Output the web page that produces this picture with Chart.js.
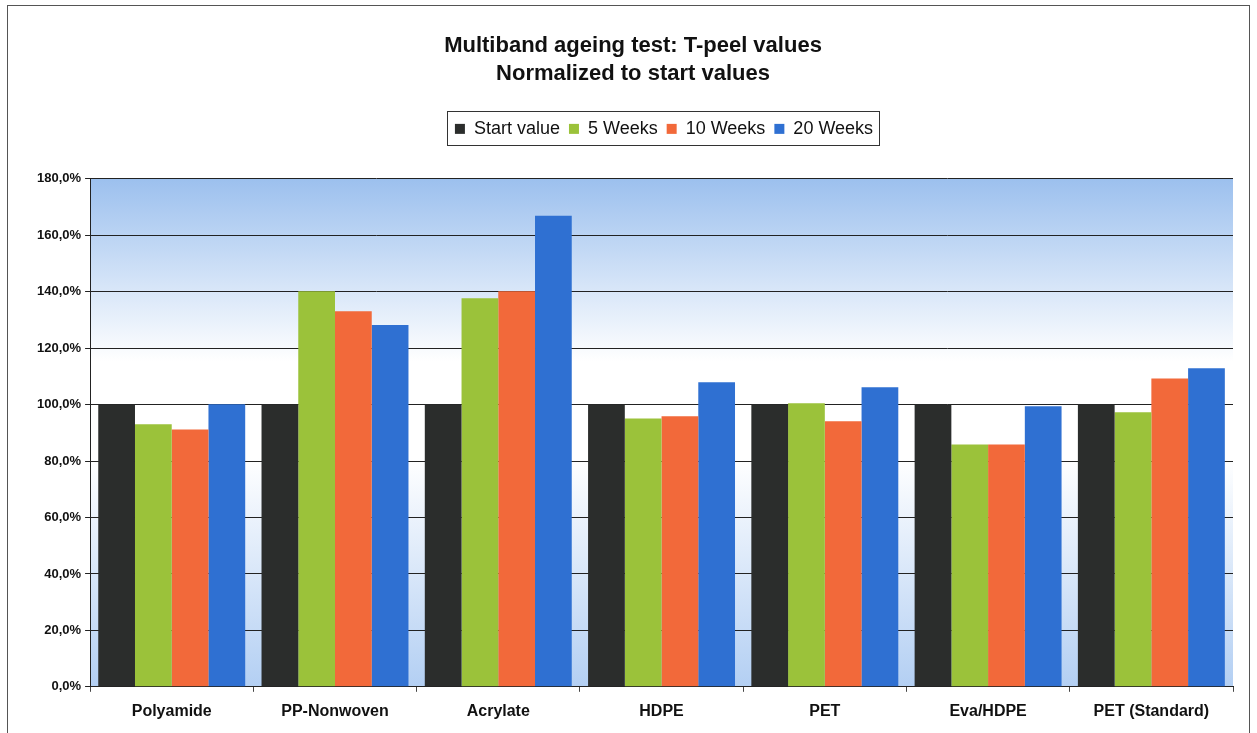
<!DOCTYPE html>
<html>
<head>
<meta charset="utf-8">
<script src="https://cdn.jsdelivr.net/npm/chart.js@4"></script>
<style>
  html, body { margin: 0; padding: 0; background: #fff; }
  #wrap { position: absolute; left: 0; top: 0; width: 1257px; height: 733px; }
  #frame { position: absolute; left: 7px; top: 5px; width: 1243px; height: 740px; border: 1px solid #555; box-sizing: border-box; }
</style>
</head>
<body>
<div id="wrap">
  <div id="frame"></div>
  <canvas id="chart" width="1257" height="733"></canvas>
</div>
<script>
// Chart data (normalized T-peel values, %)
const materials = ['Polyamide', 'PP-Nonwoven', 'Acrylate', 'HDPE', 'PET', 'Eva/HDPE', 'PET (Standard)'];
const startValue = [100, 100, 100, 100, 100, 100, 100];
const weeks5 = [93.0, 140.2, 137.7, 95.1, 100.5, 85.9, 97.3];
const weeks10 = [91.2, 133.1, 140.2, 95.9, 94.1, 85.9, 109.3];
const weeks20 = [100.1, 128.2, 166.9, 107.9, 106.2, 99.4, 112.9];
const seriesNames = ['Start value', '5 Weeks', '10 Weeks', '20 Weeks'];

const FONT = '"Liberation Sans", Arial, sans-serif';

// gradient behind the plot area, blue -> white -> blue
const plotBackground = {
    id: 'plotBackground',
    beforeDraw(chart) {
        const { ctx, chartArea: a } = chart;
        const g = ctx.createLinearGradient(0, a.top, 0, a.bottom);
        g.addColorStop(0, '#9cc0ee');
        g.addColorStop(0.36, '#ffffff');
        g.addColorStop(0.55, '#ffffff');
        g.addColorStop(1, '#b3cff3');
        ctx.save();
        ctx.fillStyle = g;
        ctx.fillRect(a.left, a.top, a.right - a.left, a.bottom - a.top);
        ctx.restore();
    }
};

// legend: extra space below it, nudged right, with a box round the items only
const LEGEND_SHIFT = 31;
const legendBox = {
    id: 'legendBox',
    beforeInit(chart) {
        const fit = chart.legend.fit;
        chart.legend.fit = function () {
            fit.bind(chart.legend)();
            this.height += 31;
        };
    },
    afterUpdate(chart) {
        const l = chart.legend;
        l.left += LEGEND_SHIFT;
        l.right += LEGEND_SHIFT;
    },
    afterDraw(chart) {
        const boxes = chart.legend.legendHitBoxes;
        if (!boxes || !boxes.length) return;
        const left = Math.min(...boxes.map(b => b.left)) + LEGEND_SHIFT - 8;
        const right = Math.max(...boxes.map(b => b.left + b.width)) + LEGEND_SHIFT + 6;
        const top = Math.min(...boxes.map(b => b.top)) - 9;
        const bottom = Math.max(...boxes.map(b => b.top + b.height)) + 7;
        const ctx = chart.ctx;
        ctx.save();
        ctx.strokeStyle = '#333';
        ctx.lineWidth = 1;
        ctx.strokeRect(Math.round(left) + 0.5, Math.round(top) + 0.5, Math.round(right - left), Math.round(bottom - top));
        ctx.restore();
    }
};

new Chart(document.getElementById('chart'), {
    type: 'bar',
    data: {
        labels: materials,
        datasets: [
            { label: seriesNames[0], data: startValue, backgroundColor: '#2b2d2c', borderWidth: 0 },
            { label: seriesNames[1], data: weeks5, backgroundColor: '#9bc23a', borderWidth: 0 },
            { label: seriesNames[2], data: weeks10, backgroundColor: '#f2693a', borderWidth: 0 },
            { label: seriesNames[3], data: weeks20, backgroundColor: '#2f70d2', borderWidth: 0 }
        ]
    },
    options: {
        responsive: false,
        animation: false,
        layout: { padding: { left: 33, right: 24, top: 30, bottom: 2 } },
        datasets: { bar: { barPercentage: 1.0, categoryPercentage: 0.9 } },
        plugins: {
            title: {
                display: true,
                text: ['Multiband ageing test: T-peel values', 'Normalized to start values'],
                color: '#111',
                font: { family: FONT, size: 22, weight: 'bold', lineHeight: 1.27 },
                padding: { top: 2, bottom: 23 }
            },
            legend: {
                display: true,
                labels: {
                    color: '#111',
                    font: { family: FONT, size: 18 },
                    boxWidth: 10,
                    boxHeight: 10,
                    padding: 9
                }
            },
            tooltip: { enabled: false }
        },
        scales: {
            x: {
                border: { color: '#222', width: 1 },
                grid: { display: true, drawOnChartArea: false, offset: true, color: '#444', tickLength: 5 },
                ticks: { color: '#111', font: { family: FONT, size: 16, weight: 'bold' }, padding: 10 }
            },
            y: {
                min: 0,
                max: 180,
                border: { color: '#222', width: 1 },
                grid: { color: '#222', lineWidth: 1, tickLength: 5 },
                ticks: {
                    stepSize: 20,
                    color: '#111',
                    font: { family: FONT, size: 13, weight: 'bold' },
                    padding: 4,
                    callback: v => v.toFixed(1).replace('.', ',') + '%'
                }
            }
        }
    },
    plugins: [plotBackground, legendBox]
});
</script>
</body>
</html>
